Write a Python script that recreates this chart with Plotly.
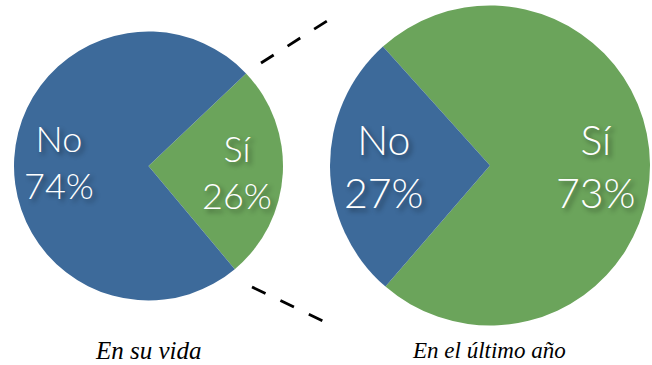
import plotly.graph_objects as go

W, H = 652, 365

labels = ["Sí", "No"]
vida_values = [26, 74]
anio_values = [73, 27]
titles = ["En su vida", "En el último año"]
colors = ["#6BA45B", "#3D6A9A"]

def px_x(x):
    return x / W

def px_y(y):
    return (H - y) / H

fig = go.Figure()

# Left pie: center (148.5,166), r 134.5
lcx, lcy, lr = 148.5, 166, 134.5
fig.add_trace(go.Pie(
    labels=labels, values=vida_values, sort=False, direction="clockwise",
    rotation=46.5, textinfo="none", hoverinfo="label+percent",
    marker=dict(colors=colors, line=dict(width=0)),
    domain=dict(x=[px_x(lcx - lr), px_x(lcx + lr)], y=[px_y(lcy + lr), px_y(lcy - lr)]),
    showlegend=False,
))

# Right pie: center (490,165.5), r 160
rcx, rcy, rr = 490, 165.5, 160
fig.add_trace(go.Pie(
    labels=labels, values=anio_values, sort=False, direction="clockwise",
    rotation=-42, textinfo="none", hoverinfo="label+percent",
    marker=dict(colors=colors, line=dict(width=0)),
    domain=dict(x=[px_x(rcx - rr), px_x(rcx + rr)], y=[px_y(rcy + rr), px_y(rcy - rr)]),
    showlegend=False,
))

shadow = "3px 3px 5px rgba(0,0,0,0.45)"
lab_font = dict(family="Lato", weight=300, color="white", shadow=shadow)

label_pos = [
    # (x, y, size) for vida Sí, vida No, anio Sí, anio No
    (237, 171, 36),
    (58.5, 162, 36),
    (596, 166, 41),
    (384, 166, 41),
]
texts = [
    f"{labels[0]}<br>{vida_values[0]}%",
    f"{labels[1]}<br>{vida_values[1]}%",
    f"{labels[0]}<br>{anio_values[0]}%",
    f"{labels[1]}<br>{anio_values[1]}%",
]
for (x, y, s), t in zip(label_pos, texts):
    fig.add_annotation(x=px_x(x), y=px_y(y), xref="paper", yref="paper",
                       text=t, showarrow=False, xanchor="center", yanchor="middle",
                       font=dict(size=s, **lab_font))

for x, y, s, t in zip([148, 489], [350, 350], [25, 23], titles):
    fig.add_annotation(x=px_x(x), y=px_y(y), xref="paper", yref="paper",
                       text=t, showarrow=False, xanchor="center", yanchor="middle",
                       font=dict(family="Liberation Serif", size=s, style="italic", color="black"))

# dashed connector lines
for (x0, y0, x1, y1) in [(261, 63, 327, 21), (252, 287, 323, 321)]:
    fig.add_shape(type="line", xref="paper", yref="paper",
                  x0=px_x(x0), y0=px_y(y0), x1=px_x(x1), y1=px_y(y1),
                  line=dict(color="black", width=2.8, dash="15px,16.5px"))

fig.update_layout(width=W, height=H, margin=dict(l=0, r=0, t=0, b=0),
                  paper_bgcolor="white", plot_bgcolor="white")

fig.write_html("out.html")
